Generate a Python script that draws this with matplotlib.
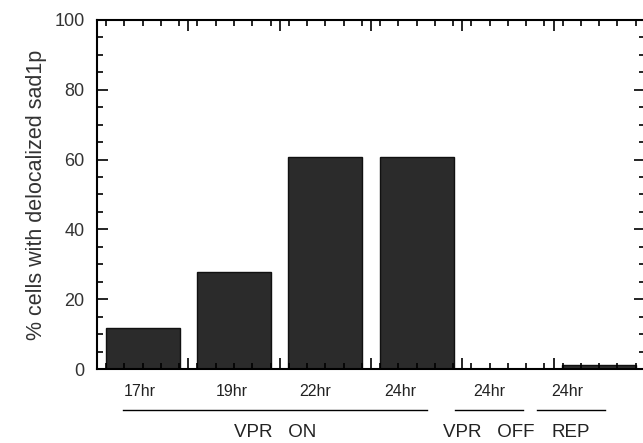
import numpy as np
import matplotlib
matplotlib.use("Agg")
import matplotlib.pyplot as plt
from matplotlib.ticker import MultipleLocator

plt.rcParams["font.family"] = ["Liberation Sans", "DejaVu Sans"]

# data
conditions = ["17hr", "19hr", "22hr", "24hr", "24hr", "24hr"]
pct_delocalized = [11.7, 27.8, 60.8, 60.8, 0.0, 1.1]
groups = ["VPR   ON", "VPR   OFF", "REP"]

# layout (data-x of annotations below the axis)
cond_label_x = [-0.03, 0.98, 1.89, 2.82, 3.80, 4.65]
group_spans = [(-0.215, 3.11), (3.42, 4.17), (4.32, 5.06)]

fig = plt.figure(figsize=(6.43, 4.43), dpi=100)
ax = fig.add_axes([0.1509, 0.167, 0.852, 0.788])

x = np.arange(len(pct_delocalized))
ax.bar(x, pct_delocalized, width=0.81, color="#2b2b2b", edgecolor="#111111", lw=1.0, zorder=1)

ax.set_xlim(-0.5, 5.5)
ax.set_ylim(0, 100)
ax.xaxis.set_minor_locator(MultipleLocator(0.2))
ax.set_xticks(np.arange(-0.5, 5.6, 1.0))
ax.set_xticklabels([])
ax.yaxis.set_major_locator(MultipleLocator(20))
ax.yaxis.set_minor_locator(MultipleLocator(5))
ax.tick_params(which="both", direction="in", top=True, right=True, width=1.2, color="black")
ax.tick_params(which="major", length=8)
ax.tick_params(which="minor", length=4.5)
ax.tick_params(axis="y", labelsize=13, pad=9, labelcolor="#333333")
for s in ax.spines.values():
    s.set_linewidth(1.5)

ax.set_ylabel("% cells with delocalized sad1p", fontsize=15.5, labelpad=5, color="#333333")

tr = ax.get_xaxis_transform()
for xl, lab in zip(cond_label_x, conditions):
    ax.text(xl, -0.065, lab, transform=tr, ha="center", va="center", fontsize=11.5,
            color="#222222", clip_on=False)
for (x0, x1), g in zip(group_spans, groups):
    ax.plot([x0, x1], [-0.117, -0.117], transform=tr, color="black", lw=1.0, clip_on=False)
    ax.text((x0 + x1) / 2, -0.183, g, transform=tr, ha="center", va="center", fontsize=13.5,
            color="#222222", clip_on=False)

fig.savefig("out.png", dpi=100)
